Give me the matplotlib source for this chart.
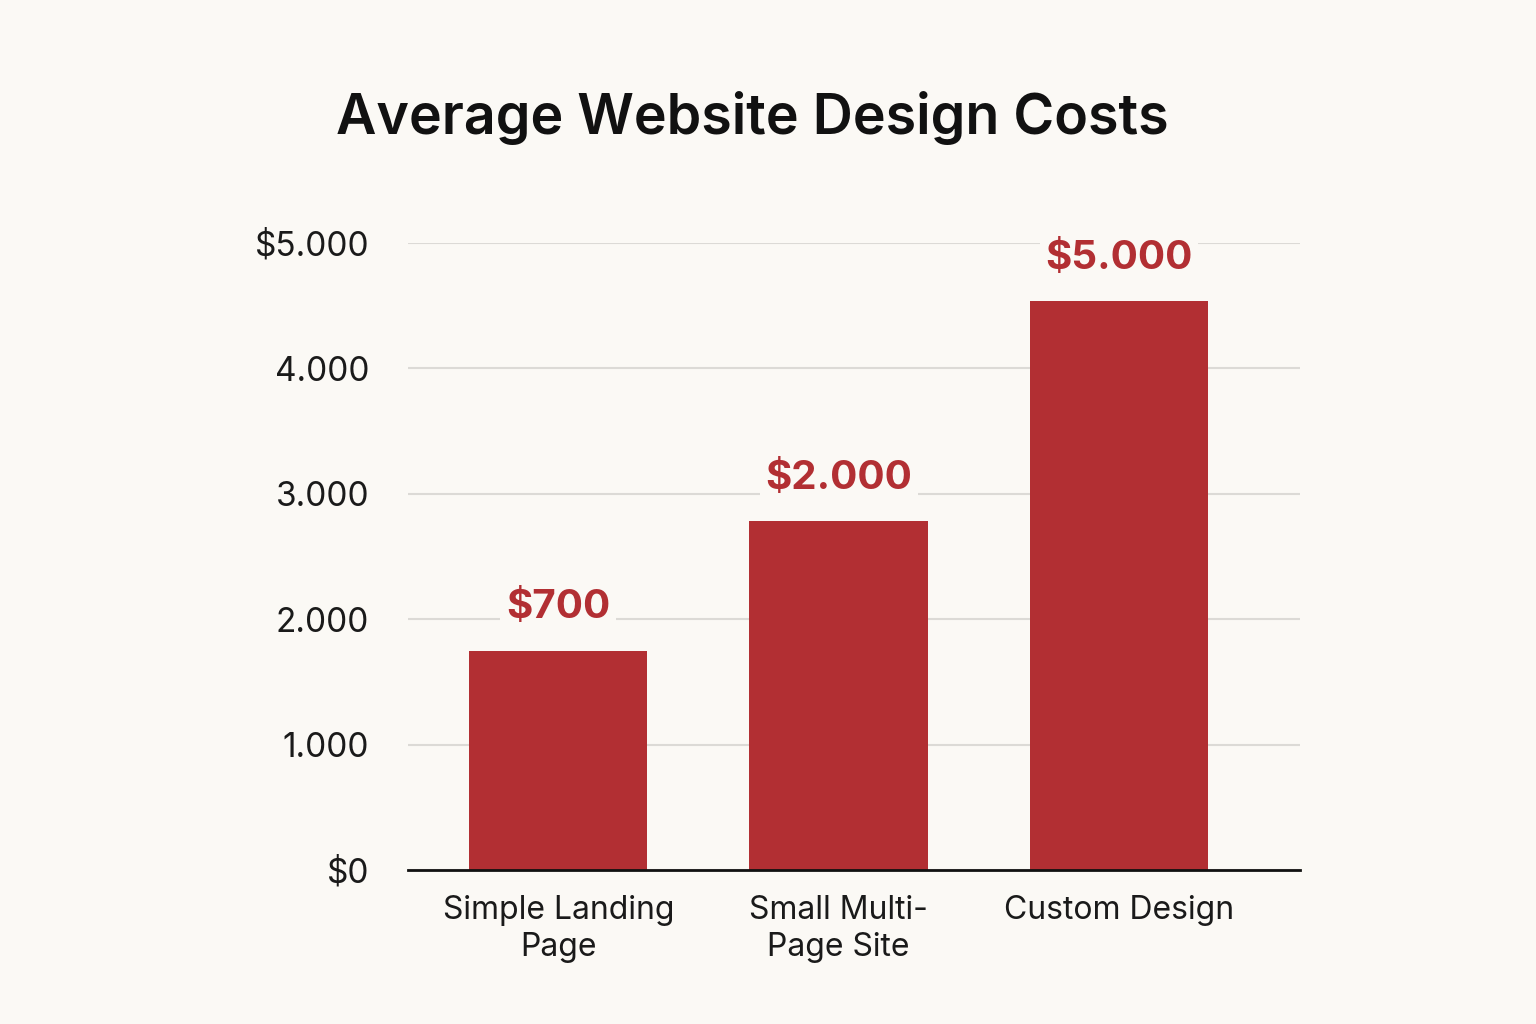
import matplotlib
matplotlib.use("Agg")
import matplotlib.pyplot as plt

categories = ["Simple Landing\nPage", "Small Multi-\nPage Site", "Custom Design"]
bar_heights = [1750, 2780, 4540]
value_labels = ["$700", "$2.000", "$5.000"]
yticks = [0, 1000, 2000, 3000, 4000, 5000]
ytick_labels = ["$0", "1.000", "2.000", "3.000", "4.000", "$5.000"]

bg = "#FBF9F5"
red = "#B22F33"
plt.rcParams['font.family'] = ['Inter', 'DejaVu Sans']

fig = plt.figure(figsize=(15.36, 10.24), dpi=100, facecolor=bg)
ax = fig.add_axes([0.2656, 0.1504, 0.5807, 0.6123], facecolor=bg)
x = list(range(len(categories)))
ax.bar(x, bar_heights, width=0.636, color=red, zorder=3)
ax.set_xlim(-0.536, 2.645)
ax.set_ylim(0, 5000)
ax.set_yticks(yticks)
ax.set_yticklabels(ytick_labels, fontsize=24, color="#1a1a1a")
ax.set_xticks(x)
ax.set_xticklabels(categories, fontsize=23, color="#1a1a1a", linespacing=1.25)
ax.tick_params(length=0, pad=28, axis='y')
ax.tick_params(length=0, pad=18, axis='x')
ax.grid(axis='y', color="#DCDAD6", linewidth=1.5, zorder=0)
for s in ["top", "right", "left"]:
    ax.spines[s].set_visible(False)
ax.spines["bottom"].set_linewidth(2)
ax.spines["bottom"].set_color("#111111")
ax.spines["bottom"].set_zorder(4)
for xi, h, lab in zip(x, bar_heights, value_labels):
    ax.text(xi, h + 340, lab, ha='center', va='center', fontsize=29, fontweight='bold',
            color=red, zorder=5, clip_on=False,
            bbox=dict(facecolor=bg, edgecolor='none', pad=4))
fig.text(0.49, 0.885, "Average Website Design Costs", ha='center', va='center',
         fontsize=40, fontweight='semibold', color="#111111")
fig.savefig("out.png", dpi=100, facecolor=bg)
